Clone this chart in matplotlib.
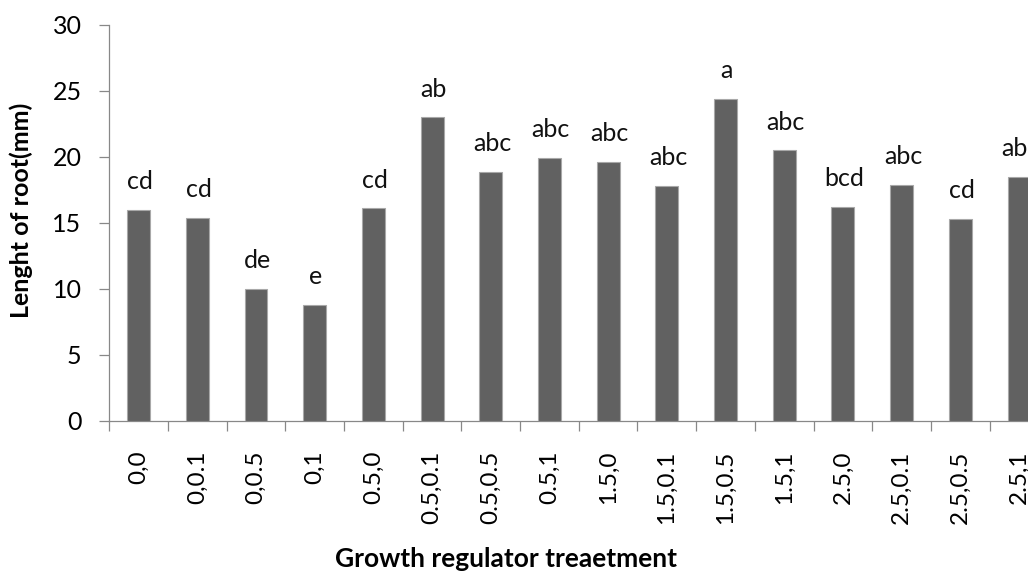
import matplotlib
matplotlib.use("Agg")
import matplotlib.pyplot as plt
import numpy as np

treatments = ["0,0", "0,0.1", "0,0.5", "0,1", "0.5,0", "0.5,0.1", "0.5,0.5", "0.5,1",
              "1.5,0", "1.5,0.1", "1.5,0.5", "1.5,1", "2.5,0", "2.5,0.1", "2.5,0.5", "2.5,1"]
root_length = [16.0, 15.4, 10.0, 8.8, 16.1, 23.0, 18.9, 19.9,
               19.6, 17.8, 24.4, 20.5, 16.2, 17.9, 15.3, 18.5]
groups = ["cd", "cd", "de", "e", "cd", "ab", "abc", "abc",
          "abc", "abc", "a", "abc", "bcd", "abc", "cd", "abc"]

plt.rcParams["font.family"] = ["Lato", "DejaVu Sans"]
axis_grey = "#888888"

fig = plt.figure(figsize=(10.28, 5.74), dpi=100)
ax = fig.add_axes([109.3 / 1028, 153 / 574, 939 / 1028, 396 / 574])

x = np.arange(len(treatments))
ax.bar(x, root_length, width=0.39, color="#616161", edgecolor="#a8a8a8", linewidth=0.8, zorder=3)

for xi, val, g in zip(x, root_length, groups):
    ax.annotate(g, (xi, val), xytext=(1, 15), textcoords="offset points",
                ha="center", va="baseline", fontsize=18, color="#111111")

ax.set_xlim(-0.5, len(treatments) - 0.5)
ax.set_ylim(0, 30)
ax.set_yticks(range(0, 31, 5))

# category labels sit between boundary ticks, like a spreadsheet chart
ax.set_xticks(x)
ax.set_xticklabels(treatments, rotation=90, fontsize=17.5)
ax.set_xticks(np.arange(-0.5, len(treatments)), minor=True)
ax.tick_params(axis="x", which="major", length=0, pad=21)
ax.tick_params(axis="x", which="minor", length=7.5, width=0.9, color=axis_grey)
ax.tick_params(axis="y", length=7, width=0.9, color=axis_grey, pad=13, labelsize=18)

for side in ["top", "right"]:
    ax.spines[side].set_visible(False)
for side in ["left", "bottom"]:
    ax.spines[side].set_color(axis_grey)
    ax.spines[side].set_linewidth(0.9)

ax.set_ylabel("Lenght of root(mm)", fontsize=18, fontweight="bold")
ax.yaxis.set_label_coords(-0.081, 0.533)
ax.set_xlabel("Growth regulator treaetment", fontsize=19, fontweight="bold")
ax.xaxis.set_label_coords(0.4225, -0.318)

fig.savefig("out.png", dpi=100)
